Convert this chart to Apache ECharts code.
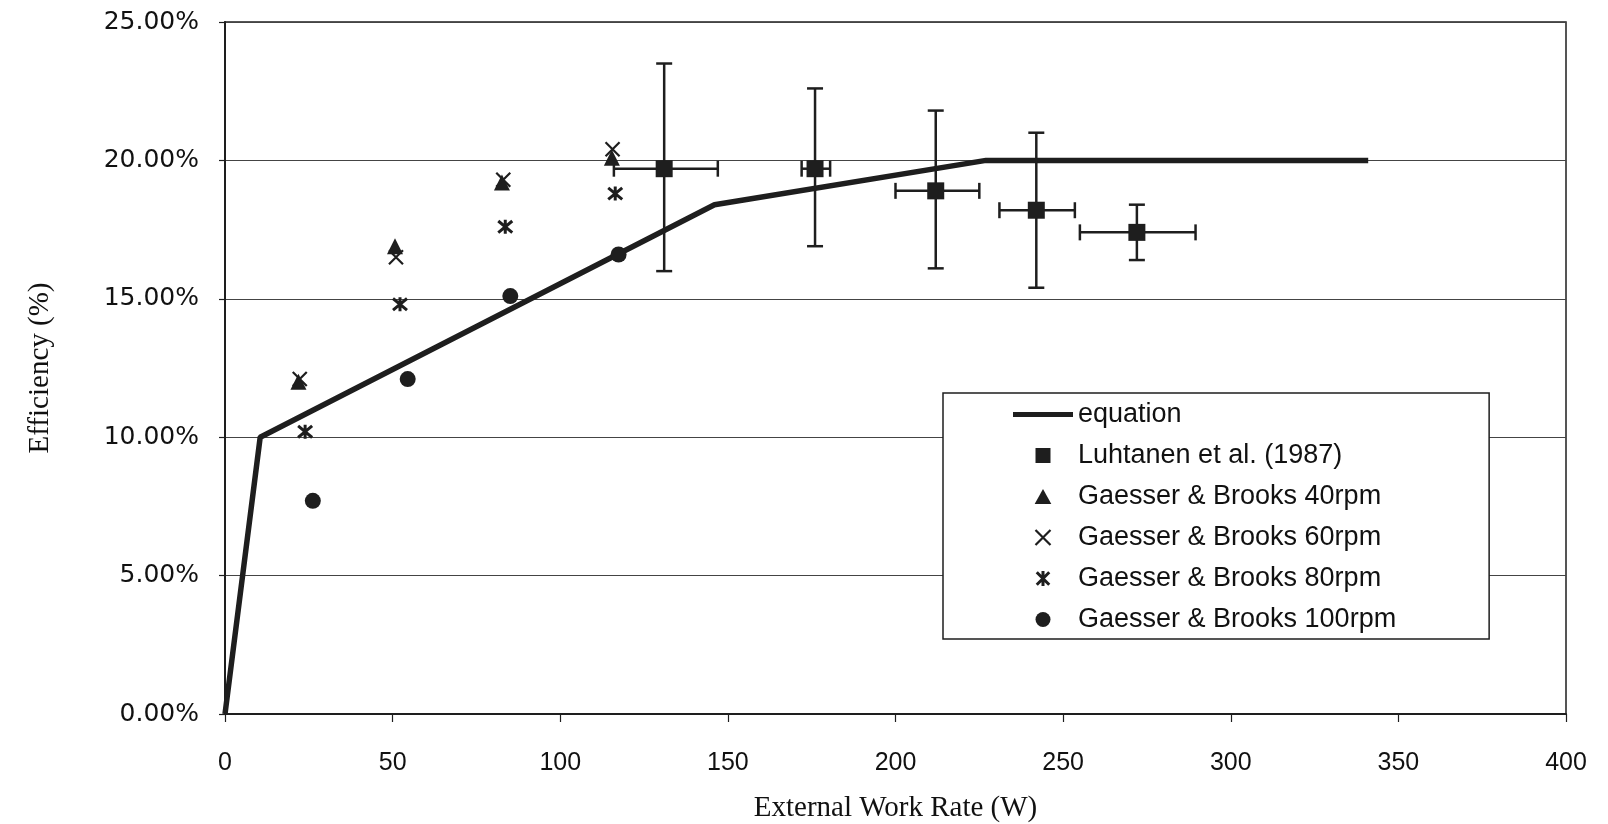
<!DOCTYPE html>
<html>
<head>
<meta charset="utf-8">
<script src="https://cdn.jsdelivr.net/npm/echarts@6/dist/echarts.min.js"></script>
<style>
  html, body { margin: 0; padding: 0; background: #fff; }
  #main { width: 1608px; height: 824px; }
</style>
</head>
<body>
<div id="main"></div>
<script>
// equation curve (W, %)
var eqX = [0, 10.5, 146, 227, 341];
var eqY = [0, 10.0, 18.4, 20.0, 20.0];

// Luhtanen et al. (1987) with error bars
var luhX     = [131, 176, 212, 242, 272];
var luhY     = [19.7, 19.7, 18.9, 18.2, 17.4];
var luhXLow  = [116, 172, 200, 231, 255];
var luhXHigh = [147, 180.5, 225, 253.5, 289.5];
var luhYLow  = [16.0, 16.9, 16.1, 15.4, 16.4];
var luhYHigh = [23.5, 22.6, 21.8, 21.0, 18.4];

// Gaesser & Brooks
var gb40X  = [21.9, 50.7, 82.6, 115.4];
var gb40Y  = [12.0, 16.9, 19.2, 20.1];
var gb60X  = [22.3, 51.0, 83.0, 115.6];
var gb60Y  = [12.1, 16.5, 19.3, 20.4];
var gb80X  = [23.9, 52.2, 83.6, 116.4];
var gb80Y  = [10.2, 14.8, 17.6, 18.8];
var gb100X = [26.2, 54.5, 85.1, 117.4];
var gb100Y = [7.7, 12.1, 15.1, 16.6];

var xTicks = [0, 50, 100, 150, 200, 250, 300, 350, 400];
var yTicks = [0, 5, 10, 15, 20, 25];

var names = ['equation', 'Luhtanen et al. (1987)', 'Gaesser & Brooks 40rpm',
  'Gaesser & Brooks 60rpm', 'Gaesser & Brooks 80rpm', 'Gaesser & Brooks 100rpm'];

function pairs(xs, ys) {
  return xs.map(function (x, i) { return [x, ys[i]]; });
}

var ink = '#1e1e1e';
var crossPath = 'path://M0,0L10,10M10,0L0,10';
var starPath = 'path://M0,0L10,10M10,0L0,10M5,-1L5,11';
var barPath = 'path://M0,0L60,0L60,5L0,5Z';
var squarePath = 'path://M0,0L10,0L10,10L0,10Z';
var triPath = 'path://M5,0L10,9L0,9Z';

var chart = echarts.init(document.getElementById('main'));

var errData = luhX.map(function (x, i) {
  return [x, luhY[i], luhXLow[i], luhXHigh[i], luhYLow[i], luhYHigh[i]];
});

function renderErr(params, api) {
  var c = api.coord([api.value(0), api.value(1)]);
  var xl = api.coord([api.value(2), api.value(1)]);
  var xh = api.coord([api.value(3), api.value(1)]);
  var yl = api.coord([api.value(0), api.value(4)]);
  var yh = api.coord([api.value(0), api.value(5)]);
  var cap = 8;
  var st = { stroke: ink, lineWidth: 2.5 };
  function ln(x1, y1, x2, y2) {
    return { type: 'line', shape: { x1: x1, y1: y1, x2: x2, y2: y2 }, style: st };
  }
  return {
    type: 'group',
    children: [
      ln(c[0], yh[1], c[0], yl[1]),
      ln(xl[0], c[1], xh[0], c[1]),
      ln(c[0] - cap, yh[1], c[0] + cap, yh[1]),
      ln(c[0] - cap, yl[1], c[0] + cap, yl[1]),
      ln(xl[0], c[1] - cap, xl[0], c[1] + cap),
      ln(xh[0], c[1] - cap, xh[0], c[1] + cap)
    ]
  };
}

var option = {
  animation: false,
  backgroundColor: '#fff',
  grid: {
    left: 225, right: 42, top: 22, bottom: 110,
    outerBoundsMode: 'none',
    containLabel: false,
    show: true, borderColor: ink, borderWidth: 1.5
  },
  legend: {
    data: [
      { name: names[0], icon: barPath, itemStyle: { color: ink } },
      { name: names[1], icon: squarePath, itemStyle: { color: ink } },
      { name: names[2], icon: triPath, itemStyle: { color: ink } },
      { name: names[3], icon: crossPath, itemStyle: { color: ink, borderColor: ink, borderWidth: 2.2 } },
      { name: names[4], icon: starPath, itemStyle: { color: ink, borderColor: ink, borderWidth: 3 } },
      { name: names[5], icon: 'circle' }
    ],
    orient: 'vertical',
    left: 943,
    top: 393,
    padding: [8, 93, 6, 70],
    itemWidth: 60,
    itemHeight: 15,
    itemGap: 14,
    symbolKeepAspect: true,
    backgroundColor: '#fff',
    borderColor: ink,
    borderWidth: 1.5,
    textStyle: { fontFamily: 'Liberation Sans', fontSize: 27, color: '#111' }
  },
  xAxis: {
    type: 'value',
    min: 0, max: 400, interval: 50,
    name: 'External Work Rate (W)',
    nameLocation: 'middle',
    nameGap: 80,
    nameTextStyle: { fontFamily: 'Liberation Serif', fontSize: 29, color: '#111' },
    axisLine: { show: true, lineStyle: { color: ink, width: 2 } },
    axisTick: { show: true, length: 8, lineStyle: { color: ink, width: 1.2 } },
    axisLabel: {
      margin: 37,
      fontFamily: 'Liberation Sans', fontSize: 25, color: '#111',
      formatter: function (v) { return xTicks.indexOf(v) >= 0 ? String(v) : ''; }
    },
    splitLine: { show: false }
  },
  yAxis: {
    type: 'value',
    min: 0, max: 25, interval: 5,
    name: 'Efficiency (%)',
    nameLocation: 'middle',
    nameGap: 170,
    nameRotate: 90,
    nameTextStyle: { fontFamily: 'Liberation Serif', fontSize: 29, color: '#111' },
    axisLine: { show: true, lineStyle: { color: ink, width: 2 } },
    axisTick: { show: true, length: 6, lineStyle: { color: ink, width: 1.2 } },
    axisLabel: {
      margin: 26,
      fontFamily: 'DejaVu Sans', fontSize: 25, color: '#111',
      formatter: function (v) { return yTicks.indexOf(v) >= 0 ? v.toFixed(2) + '%' : ''; }
    },
    splitLine: { show: true, lineStyle: { color: '#444', width: 1.2 } }
  },
  series: [
    {
      name: names[0],
      type: 'line',
      data: pairs(eqX, eqY),
      showSymbol: false,
      symbol: 'none',
      lineStyle: { color: ink, width: 5.5 },
      itemStyle: { color: ink },
      z: 3
    },
    {
      name: 'errors',
      type: 'custom',
      renderItem: renderErr,
      data: errData,
      encode: { x: 0, y: 1 },
      z: 4
    },
    {
      name: names[1],
      type: 'scatter',
      data: pairs(luhX, luhY),
      symbol: 'rect',
      symbolSize: 17,
      itemStyle: { color: ink, opacity: 1 },
      z: 5
    },
    {
      name: names[2],
      type: 'scatter',
      data: pairs(gb40X, gb40Y),
      symbol: 'triangle',
      symbolSize: 16,
      itemStyle: { color: ink, opacity: 1 },
      z: 5
    },
    {
      name: names[3],
      type: 'scatter',
      data: pairs(gb60X, gb60Y),
      symbol: crossPath,
      symbolSize: 14,
      itemStyle: { color: ink, borderColor: ink, borderWidth: 2.2, opacity: 1 },
      z: 5
    },
    {
      name: names[4],
      type: 'scatter',
      data: pairs(gb80X, gb80Y),
      symbol: starPath,
      symbolSize: 14,
      itemStyle: { color: ink, borderColor: ink, borderWidth: 3, opacity: 1 },
      z: 5
    },
    {
      name: names[5],
      type: 'scatter',
      data: pairs(gb100X, gb100Y),
      symbol: 'circle',
      symbolSize: 16,
      itemStyle: { color: ink, opacity: 1 },
      z: 5
    }
  ]
};

chart.setOption(option);
</script>
</body>
</html>
